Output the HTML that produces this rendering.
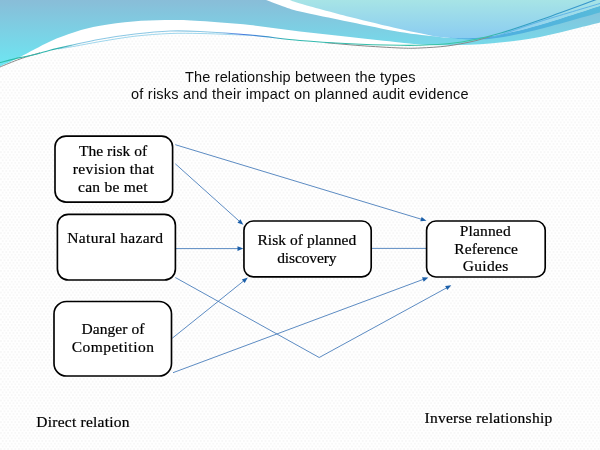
<!DOCTYPE html>
<html><head><meta charset="utf-8"><title>slide</title>
<style>
html,body{margin:0;padding:0;}
body{width:600px;height:450px;overflow:hidden;background:#fcfcfc;position:relative;}
svg{position:absolute;left:0;top:0;display:block;}
.t{position:absolute;white-space:nowrap;line-height:20px;height:20px;color:#111;}
.tx{position:absolute;left:0;top:0;width:600px;height:450px;will-change:transform;}
.ss{font-family:"Liberation Sans",sans-serif;color:#0d0d0d;}
.sf{font-family:"Liberation Serif",serif;color:#000;-webkit-text-stroke:0.22px #000;}
</style></head><body>
<svg class="bg" width="600" height="450" viewBox="0 0 600 450">
<defs><pattern id="dots" width="3.6" height="5.4" patternUnits="userSpaceOnUse"><rect width="3.6" height="5.4" fill="#ffffff"/><rect x="0" y="0" width="1.8" height="1.9" fill="#f7f7f7"/><rect x="1.8" y="2.7" width="1.8" height="1.9" fill="#f7f7f7"/></pattern></defs>
<rect width="600" height="450" fill="url(#dots)"/></svg>
<svg class="hdr" width="600" height="80" viewBox="0 0 600 80">
<defs>
<linearGradient id="gA" x1="0" y1="0" x2="0" y2="66" gradientUnits="userSpaceOnUse"><stop offset="0" stop-color="#89bdd8"/><stop offset="1" stop-color="#6de6f2"/></linearGradient>
<linearGradient id="gB" x1="0" y1="0" x2="0" y2="38" gradientUnits="userSpaceOnUse"><stop offset="0" stop-color="#a7e4e6"/><stop offset="1" stop-color="#8accf1"/></linearGradient>
<linearGradient id="gD" x1="440" y1="0" x2="600" y2="0" gradientUnits="userSpaceOnUse"><stop offset="0" stop-color="#49a9e3"/><stop offset="1" stop-color="#57bada"/></linearGradient>
<linearGradient id="gL1" x1="0" y1="0" x2="600" y2="0" gradientUnits="userSpaceOnUse">
<stop offset="0" stop-color="#2abfa6"/><stop offset="0.10" stop-color="#2fb0ad"/><stop offset="0.135" stop-color="#66b6dc" stop-opacity="0.75"/><stop offset="0.36" stop-color="#66b6dc" stop-opacity="0.75"/><stop offset="0.40" stop-color="#4a78e0"/><stop offset="0.44" stop-color="#3f8fd0"/><stop offset="0.48" stop-color="#30b7b0"/><stop offset="0.80" stop-color="#3cc6a0"/><stop offset="0.86" stop-color="#2f9fc0"/><stop offset="1" stop-color="#3a96cf"/></linearGradient>
</defs>
<path d="M-2.00 67.50C-1.67 67.33 -3.67 68.25 0.00 66.50 C3.67 64.75 11.67 61.17 20.00 57.00 C28.33 52.83 40.83 45.67 50.00 41.50 C59.17 37.33 66.67 34.62 75.00 32.00 C83.33 29.38 90.33 27.55 100.00 25.80 C109.67 24.05 122.17 22.47 133.00 21.50 C143.83 20.53 153.83 20.08 165.00 20.00 C176.17 19.92 185.83 20.17 200.00 21.00 C214.17 21.83 233.33 23.25 250.00 25.00 C266.67 26.75 283.33 29.50 300.00 31.50 C316.67 33.50 333.33 35.17 350.00 37.00 C366.67 38.83 388.33 41.25 400.00 42.50 C411.67 43.75 413.33 44.03 420.00 44.50 C426.67 44.97 433.33 45.22 440.00 45.30 C446.67 45.38 453.33 45.18 460.00 45.00 C466.67 44.82 473.33 44.62 480.00 44.20 C486.67 43.78 493.33 43.15 500.00 42.50 C506.67 41.85 513.33 41.22 520.00 40.30 C526.67 39.38 533.33 38.30 540.00 37.00 C546.67 35.70 553.33 34.08 560.00 32.50 C566.67 30.92 573.33 29.17 580.00 27.50 C586.67 25.83 596.33 23.42 600.00 22.50 C603.67 21.58 601.67 22.08 602.00 22.00L598.00 -1.00C597.50 -0.83 604.67 -3.50 595.00 0.00 C585.33 3.50 555.83 14.45 540.00 20.00 C524.17 25.55 510.83 30.05 500.00 33.30 C489.17 36.55 483.33 37.80 475.00 39.50 C466.67 41.20 459.17 42.55 450.00 43.50 C440.83 44.45 428.33 44.90 420.00 45.20 C411.67 45.50 411.67 45.55 400.00 45.30 C388.33 45.05 366.67 44.50 350.00 43.70 C333.33 42.90 316.67 41.95 300.00 40.50 C283.33 39.05 266.67 36.50 250.00 35.00 C233.33 33.50 213.33 32.17 200.00 31.50 C186.67 30.83 180.83 30.58 170.00 31.00 C159.17 31.42 146.67 32.63 135.00 34.00 C123.33 35.37 110.83 37.27 100.00 39.20 C89.17 41.13 78.33 43.77 70.00 45.60 C61.67 47.43 55.67 48.75 50.00 50.20 C44.33 51.65 41.00 53.07 36.00 54.30 C31.00 55.53 26.00 56.23 20.00 57.60 C14.00 58.97 3.67 61.60 0.00 62.50 C-3.67 63.40 -1.67 62.92 -2.00 63.00Z" fill="#fff"/>
<path d="M266.00 -2.00L290.00 -2.00L290.00 0.00C291.67 0.58 290.00 0.67 300.00 3.50 C310.00 6.33 333.33 12.75 350.00 17.00 C366.67 21.25 385.50 25.72 400.00 29.00 C414.50 32.28 430.83 35.42 437.00 36.70C430.83 35.92 414.50 34.45 400.00 32.00 C385.50 29.55 366.67 25.42 350.00 22.00 C333.33 18.58 310.83 14.00 300.00 11.50 C289.17 9.00 290.67 8.92 285.00 7.00 C279.33 5.08 269.17 1.17 266.00 0.00Z" fill="#fff"/>
<path d="M-2.00 -2.00L266.00 -2.00L266.00 0.00C269.17 1.17 279.33 5.08 285.00 7.00 C290.67 8.92 289.17 9.00 300.00 11.50 C310.83 14.00 333.33 18.58 350.00 22.00 C366.67 25.42 385.50 29.55 400.00 32.00 C414.50 34.45 430.83 35.92 437.00 36.70C439.67 36.92 447.00 37.78 453.00 38.00 C459.00 38.22 465.17 38.55 473.00 38.00 C480.83 37.45 488.83 36.87 500.00 34.70 C511.17 32.53 523.33 29.78 540.00 25.00 C556.67 20.22 589.67 9.27 600.00 6.00 C610.33 2.73 601.67 5.50 602.00 5.40L602.00 22.00L602.00 22.00C601.67 22.08 603.67 21.58 600.00 22.50 C596.33 23.42 586.67 25.83 580.00 27.50 C573.33 29.17 566.67 30.92 560.00 32.50 C553.33 34.08 546.67 35.70 540.00 37.00 C533.33 38.30 526.67 39.38 520.00 40.30 C513.33 41.22 506.67 41.85 500.00 42.50 C493.33 43.15 486.67 43.78 480.00 44.20 C473.33 44.62 466.67 44.82 460.00 45.00 C453.33 45.18 446.67 45.38 440.00 45.30 C433.33 45.22 426.67 44.97 420.00 44.50 C413.33 44.03 411.67 43.75 400.00 42.50 C388.33 41.25 366.67 38.83 350.00 37.00 C333.33 35.17 316.67 33.50 300.00 31.50 C283.33 29.50 266.67 26.75 250.00 25.00 C233.33 23.25 214.17 21.83 200.00 21.00 C185.83 20.17 176.17 19.92 165.00 20.00 C153.83 20.08 143.83 20.53 133.00 21.50 C122.17 22.47 109.67 24.05 100.00 25.80 C90.33 27.55 83.33 29.38 75.00 32.00 C66.67 34.62 59.17 37.33 50.00 41.50 C40.83 45.67 28.33 52.83 20.00 57.00 C11.67 61.17 3.67 64.75 0.00 66.50 C-3.67 68.25 -1.67 67.33 -2.00 67.50Z" fill="url(#gA)"/>
<path d="M290.00 -2.00L290.00 0.00C291.67 0.58 290.00 0.67 300.00 3.50 C310.00 6.33 333.33 12.75 350.00 17.00 C366.67 21.25 385.50 25.72 400.00 29.00 C414.50 32.28 430.83 35.42 437.00 36.70C439.67 36.92 447.00 37.78 453.00 38.00 C459.00 38.22 465.17 38.55 473.00 38.00 C480.83 37.45 488.83 36.87 500.00 34.70 C511.17 32.53 523.33 29.78 540.00 25.00 C556.67 20.22 589.67 9.27 600.00 6.00 C610.33 2.73 601.67 5.50 602.00 5.40L602.00 -2.00Z" fill="url(#gB)"/>
<path d="M453.00 38.00C456.33 38.00 465.17 38.55 473.00 38.00 C480.83 37.45 488.83 36.87 500.00 34.70 C511.17 32.53 523.33 29.78 540.00 25.00 C556.67 20.22 589.67 9.27 600.00 6.00 C610.33 2.73 601.67 5.50 602.00 5.40L602.00 12.00C601.67 12.08 610.33 9.67 600.00 12.50 C589.67 15.33 556.67 24.82 540.00 29.00 C523.33 33.18 511.17 35.83 500.00 37.60 C488.83 39.37 481.83 39.62 473.00 39.60 C464.17 39.58 451.33 37.85 447.00 37.50Z" fill="url(#gD)"/>
<path d="M-2.00 68.00C-1.67 67.83 -3.67 68.50 0.00 67.00 C3.67 65.50 13.33 61.37 20.00 59.00 C26.67 56.63 36.67 53.83 40.00 52.80" fill="none" stroke="#8a8a8a" stroke-width="1" />
<path d="M325.00 42.60C330.83 43.10 347.50 44.70 360.00 45.60 C372.50 46.50 390.00 47.60 400.00 48.00 C410.00 48.40 412.17 48.33 420.00 48.00 C427.83 47.67 438.17 47.12 447.00 46.00 C455.83 44.88 465.50 42.97 473.00 41.30 C480.50 39.63 488.83 36.88 492.00 36.00" fill="none" stroke="#8a8a8a" stroke-width="1" />
<path d="M58.00 49.00C60.83 48.53 68.00 47.43 75.00 46.20 C82.00 44.97 90.00 43.27 100.00 41.60 C110.00 39.93 123.33 37.55 135.00 36.20 C146.67 34.85 159.17 33.95 170.00 33.50 C180.83 33.05 190.00 33.33 200.00 33.50 C210.00 33.67 220.83 34.15 230.00 34.50 C239.17 34.85 250.83 35.42 255.00 35.60" fill="none" stroke="#8fd0ea" stroke-width="1" stroke-opacity="0.85"/>
<path d="M490.00 37.00C491.67 36.67 491.67 37.58 500.00 35.00 C508.33 32.42 523.33 26.75 540.00 21.50 C556.67 16.25 589.67 6.58 600.00 3.50 C610.33 0.42 601.67 3.08 602.00 3.00" fill="none" stroke="#5fb4e6" stroke-width="1" />
<path d="M-2.00 63.00C-1.67 62.92 -3.67 63.40 0.00 62.50 C3.67 61.60 14.00 58.97 20.00 57.60 C26.00 56.23 31.00 55.53 36.00 54.30 C41.00 53.07 44.33 51.65 50.00 50.20 C55.67 48.75 61.67 47.43 70.00 45.60 C78.33 43.77 89.17 41.13 100.00 39.20 C110.83 37.27 123.33 35.37 135.00 34.00 C146.67 32.63 159.17 31.42 170.00 31.00 C180.83 30.58 186.67 30.83 200.00 31.50 C213.33 32.17 233.33 33.50 250.00 35.00 C266.67 36.50 283.33 39.05 300.00 40.50 C316.67 41.95 333.33 42.90 350.00 43.70 C366.67 44.50 388.33 45.05 400.00 45.30 C411.67 45.55 411.67 45.50 420.00 45.20 C428.33 44.90 440.83 44.45 450.00 43.50 C459.17 42.55 466.67 41.20 475.00 39.50 C483.33 37.80 489.17 36.55 500.00 33.30 C510.83 30.05 524.17 25.55 540.00 20.00 C555.83 14.45 585.33 3.50 595.00 0.00 C604.67 -3.50 597.50 -0.83 598.00 -1.00" fill="none" stroke="url(#gL1)" stroke-width="1.1" />
</svg>
<svg class="dg" width="600" height="450" viewBox="0 0 600 450">
<path d="M175.30 144.70L422.06 219.45" fill="none" stroke="#4a7ebb" stroke-width="0.9"/><path d="M426.50 220.80L420.28 221.32L421.62 216.92Z" fill="#1b5fa9"/>
<path d="M175.30 163.80L239.85 221.70" fill="none" stroke="#4a7ebb" stroke-width="0.9"/><path d="M243.30 224.80L237.45 222.64L240.52 219.21Z" fill="#1b5fa9"/>
<path d="M176.00 248.60L238.66 248.60" fill="none" stroke="#4a7ebb" stroke-width="0.9"/><path d="M243.30 248.60L237.50 250.90L237.50 246.30Z" fill="#1b5fa9"/>
<path d="M172.30 338.20L244.18 280.50" fill="none" stroke="#4a7ebb" stroke-width="0.9"/><path d="M247.80 277.60L244.72 283.02L241.84 279.44Z" fill="#1b5fa9"/>
<path d="M175.30 277.50L319.20 357.50L447.23 287.53" fill="none" stroke="#4a7ebb" stroke-width="0.9"/><path d="M451.30 285.30L447.31 290.10L445.11 286.06Z" fill="#1b5fa9"/>
<path d="M173.00 372.70L423.95 279.12" fill="none" stroke="#4a7ebb" stroke-width="0.9"/><path d="M428.30 277.50L423.67 281.68L422.06 277.37Z" fill="#1b5fa9"/>
<path d="M371.70 248.40L426.20 248.40" fill="none" stroke="#4a7ebb" stroke-width="0.9"/>
<rect x="55.00" y="136.05" width="117.60" height="66.00" rx="11.00" ry="11.00" fill="#fff" stroke="#000" stroke-width="1.65"/>
<rect x="57.40" y="214.30" width="118.00" height="65.70" rx="10.95" ry="10.95" fill="#fff" stroke="#000" stroke-width="1.65"/>
<rect x="54.00" y="301.45" width="117.50" height="74.55" rx="12.43" ry="12.43" fill="#fff" stroke="#000" stroke-width="1.65"/>
<rect x="243.95" y="221.00" width="127.25" height="55.90" rx="9.32" ry="9.32" fill="#fff" stroke="#000" stroke-width="1.65"/>
<rect x="426.60" y="221.00" width="118.60" height="56.00" rx="9.34" ry="9.34" fill="#fff" stroke="#000" stroke-width="1.65"/>
</svg>
<div class="tx">
<div class="t ss" id="t0" style="left:184.95px;top:66.71px;font-size:14.5px;letter-spacing:0.170px">The relationship between the types</div>
<div class="t ss" id="t1" style="left:131.05px;top:84.00px;font-size:14.5px;letter-spacing:0.223px">of risks and their impact on planned audit evidence</div>
<div class="t sf" id="t2" style="left:78.95px;top:140.50px;font-size:15.5px;letter-spacing:0.025px">The risk of</div>
<div class="t sf" id="t3" style="left:72.80px;top:158.50px;font-size:15.5px;letter-spacing:0.346px">revision that</div>
<div class="t sf" id="t4" style="left:78.05px;top:176.71px;font-size:15.5px;letter-spacing:0.256px">can be met</div>
<div class="t sf" id="t5" style="left:67.30px;top:227.50px;font-size:15.5px;letter-spacing:0.319px">Natural hazard</div>
<div class="t sf" id="t6" style="left:81.50px;top:319.21px;font-size:15.5px;letter-spacing:0.056px">Danger of</div>
<div class="t sf" id="t7" style="left:71.70px;top:337.00px;font-size:15.5px;letter-spacing:0.470px">Competition</div>
<div class="t sf" id="t8" style="left:257.50px;top:230.00px;font-size:15.5px;letter-spacing:0.036px">Risk of planned</div>
<div class="t sf" id="t9" style="left:277.15px;top:247.60px;font-size:15.5px;letter-spacing:-0.106px">discovery</div>
<div class="t sf" id="t10" style="left:459.80px;top:220.50px;font-size:15.5px;letter-spacing:0.150px">Planned</div>
<div class="t sf" id="t11" style="left:454.30px;top:238.50px;font-size:15.5px;letter-spacing:0.094px">Reference</div>
<div class="t sf" id="t12" style="left:462.75px;top:256.31px;font-size:15.5px;letter-spacing:0.320px">Guides</div>
<div class="t sf" id="t13" style="left:36.30px;top:411.71px;font-size:15.5px;letter-spacing:0.236px">Direct relation</div>
<div class="t sf" id="t14" style="left:424.50px;top:408.31px;font-size:15.5px;letter-spacing:0.268px">Inverse relationship</div>
</div></body></html>
